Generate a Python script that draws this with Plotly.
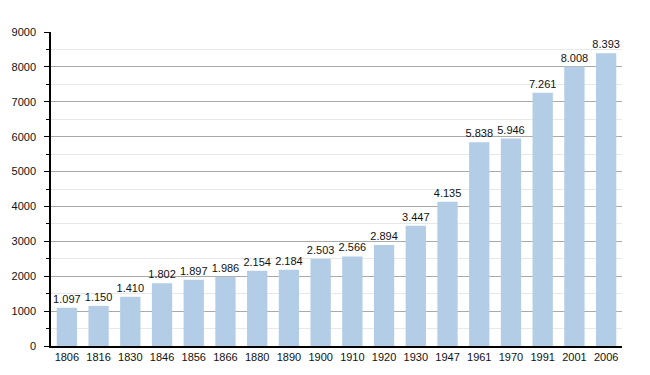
import plotly.graph_objects as go

years = ["1806", "1816", "1830", "1846", "1856", "1866", "1880", "1890", "1900",
         "1910", "1920", "1930", "1947", "1961", "1970", "1991", "2001", "2006"]
population = [1097, 1150, 1410, 1802, 1897, 1986, 2154, 2184, 2503,
              2566, 2894, 3447, 4135, 5838, 5946, 7261, 8008, 8393]
labels = [f"{v:,}".replace(",", ".") for v in population]

fig = go.Figure(go.Bar(
    x=years, y=population, text=labels, textposition="outside",
    constraintext="none",
    textfont=dict(size=11, color="#111", family="Liberation Sans, Arial"),
    marker=dict(color="#b3cde6", line=dict(width=0)),
    cliponaxis=False,
))

fig.update_layout(
    width=650, height=375,
    margin=dict(l=43, r=36, t=24, b=37),
    paper_bgcolor="white", plot_bgcolor="white",
    bargap=0.36,
    showlegend=False,
    font=dict(family="Liberation Sans, Arial", size=11, color="#111"),
)
fig.update_xaxes(
    type="category", showline=True, linecolor="black", linewidth=1.5,
    ticks="", tickfont=dict(size=11, color="#111"), showgrid=False,
    automargin=False,
)
fig.update_yaxes(
    range=[0, 9000], dtick=1000, tick0=0,
    showline=True, linecolor="black", linewidth=1.5,
    ticks="outside", ticklen=5, tickcolor="black",
    ticklabelstandoff=6, automargin=False,
    gridcolor="#aaaaaa", gridwidth=1,
    minor=dict(dtick=500, showgrid=True, gridcolor="#e8e8e8", ticks="outside", ticklen=3, tickcolor="black"),
    tickfont=dict(size=11, color="#111"), zeroline=False,
)

fig.write_html("out.html")
